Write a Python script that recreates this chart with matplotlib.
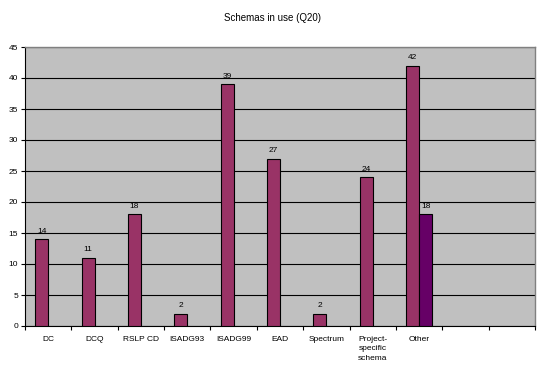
import matplotlib.pyplot as plt
import numpy as np

categories = ["DC", "DCQ", "RSLP CD", "ISADG93", "ISADG99", "EAD", "Spectrum",
              "Project-\nspecific\nschema", "Other", "", ""]
series1 = [14, 11, 18, 2, 39, 27, 2, 24, 42, np.nan, np.nan]
series2 = [np.nan, np.nan, np.nan, np.nan, np.nan, np.nan, np.nan, np.nan, 18, np.nan, np.nan]
yticks = list(range(0, 50, 5))

fig = plt.figure(figsize=(5.44, 3.73), dpi=100)
ax = fig.add_axes([25 / 544, 1 - 326 / 373, 510 / 544, 279 / 373])
ax.set_facecolor("#C0C0C0")

x = np.arange(len(categories))
w = 0.28
b1 = ax.bar(x - w / 2, series1, w, color="#993366", edgecolor="black", linewidth=0.8, zorder=3)
b2 = ax.bar(x + w / 2, series2, w, color="#660066", edgecolor="black", linewidth=0.8, zorder=3)

for bars, vals in ((b1, series1), (b2, series2)):
    for rect, v in zip(bars, vals):
        if np.isnan(v):
            continue
        ax.text(rect.get_x() + rect.get_width() / 2, v + 0.7, f"{v:g}",
                ha="center", va="bottom", fontsize=6, family="Liberation Sans")

ax.set_xlim(-0.5, len(categories) - 0.5)
ax.set_ylim(0, 45)
ax.set_yticks(yticks)
ax.set_yticklabels([str(t) for t in yticks], fontsize=6, family="Liberation Sans")
ax.yaxis.grid(True, color="black", linewidth=0.8, zorder=1)

ax.set_xticks(np.arange(len(categories) + 1) - 0.5)
ax.set_xticklabels([])
ax.set_xticks(x, minor=True)
ax.set_xticklabels(categories, minor=True, fontsize=6, family="Liberation Sans",
                   va="top", linespacing=1.5)
ax.tick_params(axis="x", which="minor", length=0, pad=7)
ax.tick_params(axis="x", which="major", length=3, direction="out", width=0.8)
ax.tick_params(axis="y", length=3, direction="out", width=0.8, pad=2)

for side in ("top", "right"):
    ax.spines[side].set_color("#808080")
    ax.spines[side].set_linewidth(1)
for side in ("left", "bottom"):
    ax.spines[side].set_color("black")
    ax.spines[side].set_linewidth(0.8)

fig.text(0.5, 1 - 18 / 373, "Schemas in use (Q20)", ha="center", va="center",
         fontsize=7, family="Liberation Sans")

fig.savefig("out.png", dpi=100, facecolor="white")
